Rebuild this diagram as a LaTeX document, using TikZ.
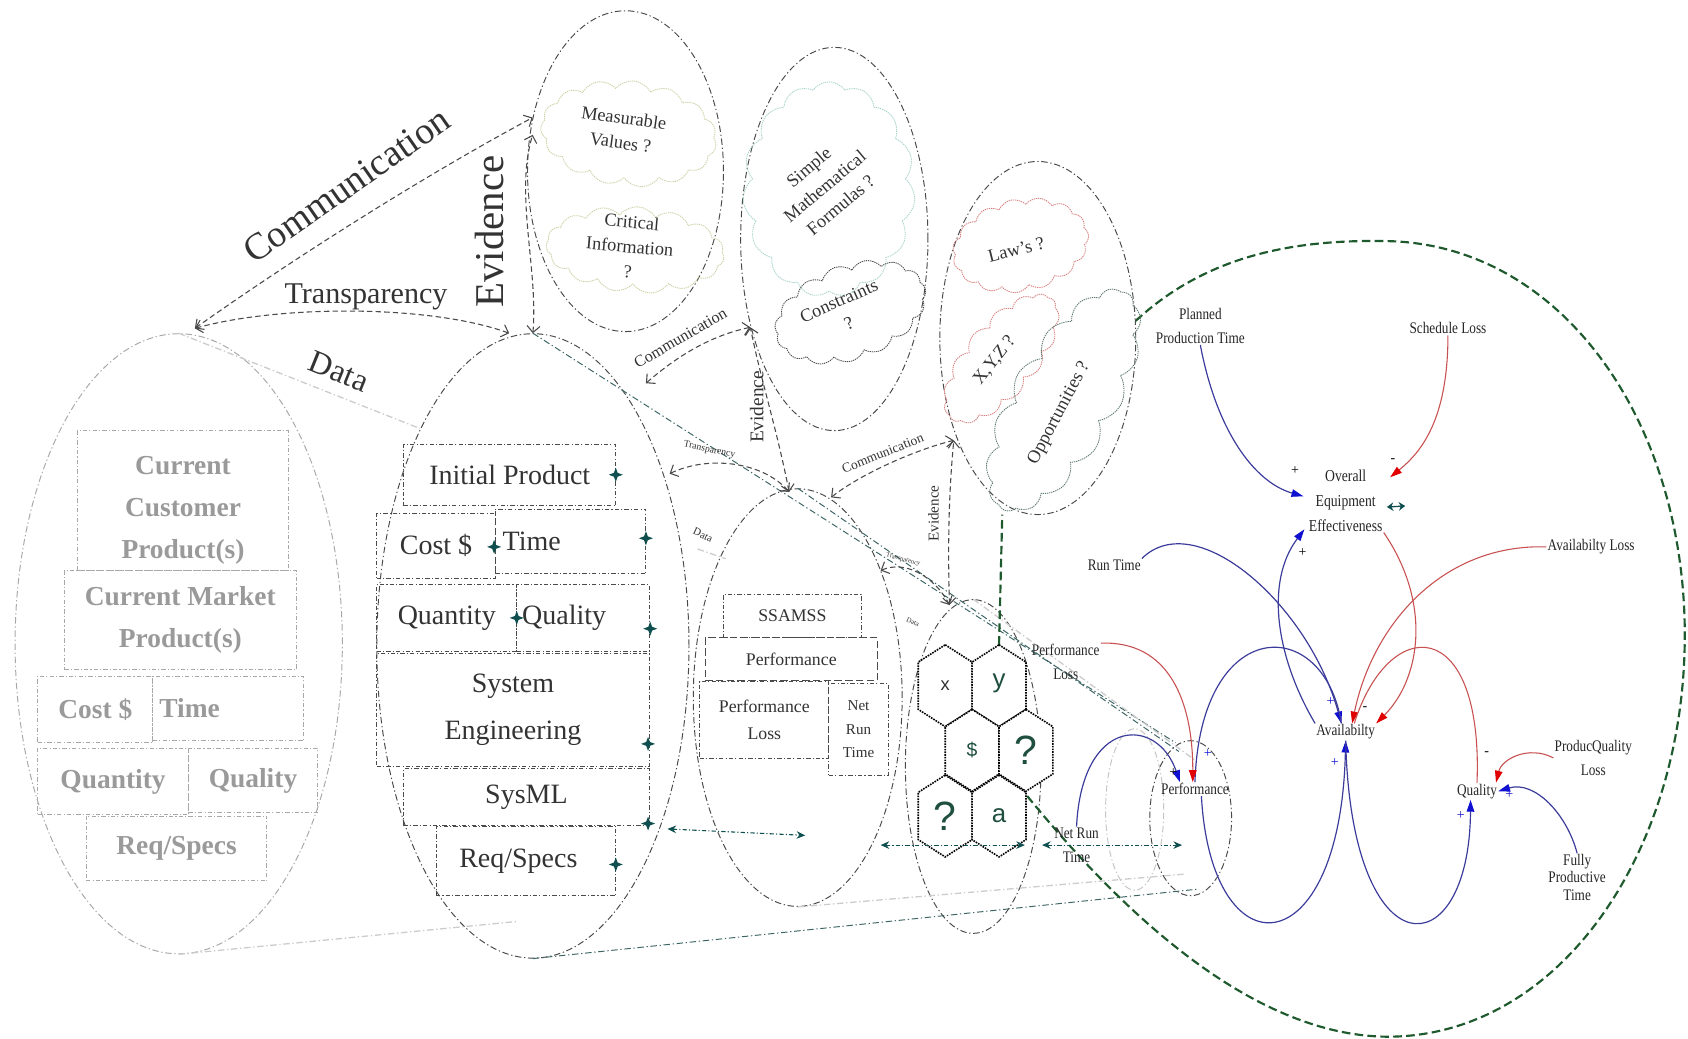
\documentclass[tikz,border=0pt]{standalone}
\usepackage{fontspec}
\setmainfont{Liberation Serif}
\newfontfamily\cldf[FakeStretch=0.82]{Liberation Serif}
\newfontfamily\hexf{Liberation Sans}
\usetikzlibrary{shapes.geometric,shapes.symbols,arrows.meta}
\definecolor{tealx}{HTML}{0F4F4F}
\definecolor{projc}{HTML}{3D6565}
\definecolor{lgray}{HTML}{A8A8A8}
\definecolor{dgray}{HTML}{4A4A4A}
\definecolor{txtgray}{HTML}{333333}
\definecolor{boldgray}{HTML}{9A9A9A}
\definecolor{cldblue}{HTML}{3B3B9B}
\definecolor{cldred}{HTML}{C85050}
\definecolor{headblue}{HTML}{1010D0}
\definecolor{headred}{HTML}{E00000}
\definecolor{greenx}{HTML}{1E5A2E}
\definecolor{cloudY}{HTML}{C9D3A6}
\definecolor{cloudT}{HTML}{A9D4CC}
\definecolor{cloudR}{HTML}{D98080}
\definecolor{cloudG}{HTML}{5F7A70}
\definecolor{hexg}{HTML}{1F4F3F}
\begin{document}
\begin{tikzpicture}[x=1pt,y=-1pt]
\tikzset{
 ellbase/.style={ellipse, inner sep=0pt, line width=0.9pt, dash pattern=on 6pt off 2.5pt on 1.2pt off 2.5pt},
 ellD/.style={ellbase, draw=dgray},
 ellL/.style={ellbase, draw=lgray},
 ellLL/.style={ellbase, draw=gray!45},
 boxbase/.style={line width=0.9pt, dash pattern=on 4pt off 2pt on 1pt off 2pt, inner sep=6pt, align=center},
 gbox/.style={boxbase, draw=lgray, font=\fontsize{25.5}{39}\selectfont\bfseries, text=boldgray},
 dbox/.style={boxbase, draw=dgray, font=\fontsize{26}{44}\selectfont, text=txtgray},
 sbox/.style={boxbase, draw=dgray, font=\fontsize{16.5}{25}\selectfont, text=txtgray},
 dia/.style={star, star points=4, star point ratio=2.6, fill=tealx, inner sep=0pt, minimum size=13pt},
 darr/.style={draw=dgray, line width=1pt, dash pattern=on 5pt off 3pt, {Straight Barb[length=6pt,width=12pt]}-{Straight Barb[length=6pt,width=12pt]}},
 lbl/.style={text=txtgray, inner sep=0pt},
 proj/.style={draw=projc, line width=0.9pt, dash pattern=on 6pt off 2.5pt on 1.2pt off 2.5pt},
 projf/.style={draw=gray!40, line width=1.2pt, dash pattern=on 6pt off 2.5pt on 1.2pt off 2.5pt},
 tarr/.style={draw=tealx, line width=1pt, dash pattern=on 4pt off 2pt on 1pt off 2pt, {Stealth[length=8pt,width=7pt]}-{Stealth[length=8pt,width=7pt]}},
 greenp/.style={draw=greenx, line width=2pt, dash pattern=on 8pt off 4pt},
 cloudst/.style={cloud, cloud puffs=15, cloud puff arc=110, cloud ignores aspect, line width=0.8pt, dash pattern=on 1.2pt off 0.8pt, inner sep=0pt},
 ctxt/.style={text=txtgray, align=center, font=\fontsize{17}{23}\selectfont, inner sep=0pt},
 hexs/.style={draw=black, fill=white, line width=1.5pt, densely dotted},
 hexl/.style={font=\hexf, text=hexg, inner sep=0pt},
 cldlbl/.style={font=\cldf\fontsize{15}{22}\selectfont, align=center, inner sep=1pt, text=black!85},
 cb/.style={draw=cldblue, line width=1.1pt, -{Triangle[length=11pt,width=7pt,color=headblue]}},
 cbn/.style={draw=cldblue, line width=1.1pt},
 cr/.style={draw=cldred, line width=1pt, -{Triangle[length=11pt,width=7pt,color=headred]}},
 crn/.style={draw=cldred, line width=1pt},
 sgn/.style={font=\fontsize{13}{13}\selectfont, inner sep=0pt},
}
\useasboundingbox (0,0) rectangle (1568,965);
\fill[white] (0,0) rectangle (1568,965);

% ---------- ellipses ----------
\node[ellL, minimum width=304pt, minimum height=576pt] (e1) at (166,598) {};
\node[ellD, minimum width=290pt, minimum height=580pt] (e2) at (495,600) {};
\node[ellD, minimum width=194pt, minimum height=388pt] (e3) at (741,648) {};
\node[ellD, minimum width=126pt, minimum height=310pt] (e4) at (904,712) {};
\node[ellD, minimum width=182pt, minimum height=298pt] (eA) at (581,159) {};
\node[ellD, minimum width=174pt, minimum height=356pt] (eB) at (775,222) {};
\node[ellD, minimum width=182pt, minimum height=328pt] (eC) at (964,314) {};
\node[ellLL, minimum width=54pt, minimum height=150pt] (e5) at (1054,752) {};
\node[ellD, minimum width=76pt, minimum height=144pt] (e6) at (1106,760) {};

% ---------- projection lines ----------
\coordinate (pj1) at (1092,690);
\coordinate (pj2) at (1095,698);
\coordinate (pj3) at (1110,706);
\coordinate (pj4) at (1112,826);
\coordinate (pj5) at (480,856);
\coordinate (pj6) at (1100,812);
\coordinate (dA) at (390,398);
\draw[proj] (e2.north) -- (pj1);
\draw[proj] (e3.north) -- (pj2);
\draw[projf] (e4.north) -- (pj3);
\draw[proj] (e2.south) -- (pj4);
\draw[projf] (e1.south) -- (pj5);
\draw[projf] (e3.south) -- (pj6);
\draw[projf] (e1.north) -- (dA);

% ---------- green boundary ----------
\draw[greenp] (928,599) -- (931,478);
\draw[greenp] (1055,298) .. controls (1120,238) and (1200,222) .. (1290,224)
  .. controls (1450,228) and (1565,390) .. (1565,590)
  .. controls (1565,790) and (1450,962) .. (1290,963)
  .. controls (1150,963) and (1020,820) .. (953,738);

% ---------- left ellipse boxes ----------
\node[gbox, minimum width=196pt, minimum height=130pt] (ccp) at (170,465) {\raisebox{-7pt}[\height][\depth]{\begin{tabular}{@{}c@{}}Current\\Customer\\Product(s)\end{tabular}}};
\node[gbox, minimum width=215pt, minimum height=92pt] (cmp) at (167.5,576) {Current Market\\Product(s)};
\node[gbox, minimum width=107pt, minimum height=62pt] (cost1) at (88.5,659) {Cost \$};
\node[gbox, text width=128pt, align=left, minimum height=60pt] (time1) at (212,658) {Time};
\node[gbox, minimum width=140pt, minimum height=62pt] (quan1) at (105,726) {Quantity};
\node[gbox, minimum width=120pt, minimum height=60pt] (qual1) at (235,725) {Quality};
\node[gbox, minimum width=168pt, minimum height=60pt] (req1) at (164,788) {Req/Specs};

% ---------- second ellipse boxes ----------
\node[dbox, minimum width=197pt, minimum height=57pt] (init) at (473.5,441.5) {Initial Product};
\node[dbox, minimum width=110pt, minimum height=60pt] (cost2) at (405,507) {Cost \$};
\node[dbox, text width=126pt, align=left, inner sep=7pt, minimum height=60pt] (time2) at (530,503) {Time};
\node[dbox, minimum width=130pt, minimum height=62pt] (quan2) at (415,574) {Quantity};
\node[dbox, text width=113pt, align=left, inner sep=5pt, minimum height=62pt] (qual2) at (541.5,574) {Quality};
\node[dbox, minimum width=253pt, minimum height=105pt] (se) at (476.5,659.5) {System\\Engineering};
\node[dbox, minimum width=228pt, minimum height=53pt] (sysml) at (489,740.5) {SysML};
\node[dbox, minimum width=167pt, minimum height=64pt] (req2) at (488.5,800) {Req/Specs\hspace*{14pt}};
\node[dia] (d1) at (572,441) {};
\node[dia] (d2) at (459,508) {};
\node[dia] (d3) at (600,500) {};
\node[dia] (d4) at (480,574) {};
\node[dia] (d5) at (604,584) {};
\node[dia] (d6) at (602,691) {};
\node[dia] (d7) at (602,765) {};
\node[dia] (d8) at (572,803) {};

% ---------- third ellipse boxes ----------
\node[sbox, minimum width=128pt, minimum height=40pt] (ss) at (736,572) {SSAMSS};
\node[sbox, dash pattern=on 7pt off 3pt, minimum width=160pt, minimum height=40pt] (perf3) at (735,612) {Performance};
\node[sbox, minimum width=120pt, minimum height=72pt] (pl3) at (710,669) {Performance\\Loss};
\node[sbox, font=\fontsize{14}{22}\selectfont, minimum width=55pt, minimum height=85pt] (nrt3) at (797.5,677.5) {Net\\Run\\Time};

% ---------- hexagons ----------
\foreach \cx/\cy in {878/637, 928/637, 903/697, 953/697, 878/758, 928/758}
  \filldraw[hexs] (\cx,\cy) ++(0,-38) -- ++(25,16) -- ++(0,44) -- ++(-25,16) -- ++(-25,-16) -- ++(0,-44) -- cycle;
\node[hexl, text=txtgray, font=\hexf\fontsize{17}{17}\selectfont] (hx1) at (878,637) {x};
\node[hexl, font=\hexf\fontsize{24}{24}\selectfont] (hx2) at (928,635) {y};
\node[hexl, font=\hexf\fontsize{18}{18}\selectfont] (hx3) at (903,697) {\$};
\node[hexl, font=\hexf\fontsize{38}{38}\selectfont] (hx4) at (953,697) {?};
\node[hexl, font=\hexf\fontsize{38}{38}\selectfont] (hx5) at (878,758) {?};
\node[hexl, font=\hexf\fontsize{24}{24}\selectfont] (hx6) at (928,758) {a};

% ---------- clouds ----------
\node[cloudst, draw=cloudY, minimum width=164pt, minimum height=98pt, rotate=-6] (cMeas) at (584,124) {};
\node[cloudst, draw=cloudY, minimum width=166pt, minimum height=80pt, rotate=-4] (cCrit) at (590,232) {};
\node[cloudst, draw=cloudT, minimum width=160pt, minimum height=200pt] (cSimp) at (770,176) {};
\node[cloudst, draw=dgray, minimum width=146pt, minimum height=88pt, rotate=20] (cCons) at (790,290) {};
\node[cloudst, draw=cloudR, minimum width=128pt, minimum height=86pt, rotate=12] (cLaw) at (948,228) {};
\node[cloudst, draw=cloudR, minimum width=146pt, minimum height=68pt, rotate=50] (cXYZ) at (930,333) {};
\node[cloudst, draw=cloudG, minimum width=232pt, minimum height=98pt, rotate=60] (cOpp) at (988,372) {};
\node[ctxt, rotate=-8] (tMeas) at (578,121) {Measurable\\Values ?};
\node[ctxt, rotate=-5] (tCrit) at (585,229) {Critical\\Information\\?};
\node[ctxt, rotate=40] (tSimp) at (766,173) {Simple\\Mathematical\\Formulas ?};
\node[ctxt, rotate=24] (tCons) at (784,290) {Constraints\\?};
\node[ctxt, rotate=14] (tLaw) at (944,232) {Law's ?};
\node[ctxt, rotate=52] (tXYZ) at (924,335) {X,Y,Z ?};
\node[ctxt, rotate=62] (tOpp) at (984,384) {Opportunities ?};

% ---------- motif 1 arrows ----------
\coordinate (m1o) at (181,305);
\draw[darr] (m1o) .. controls (280,235) and (400,160) .. (eA.150);
\draw[darr] (m1o) .. controls (260,283) and (400,283) .. ([xshift=-22pt]e2.north);
\draw[darr] (e2.north) .. controls (500,250) and (478,180) .. ([yshift=-16pt]eA.150);
\node[lbl, font=\fontsize{35}{35}\selectfont, rotate=35] (commL) at (322,172) {Communication};
\node[lbl, font=\fontsize{28}{28}\selectfont] (transL) at (340,276) {Transparency};
\node[lbl, font=\fontsize{38}{38}\selectfont, rotate=90] (evidL) at (455,215) {Evidence};
\node[lbl, font=\fontsize{30}{30}\selectfont, rotate=-22] (dataL) at (315,345) {Data};

% ---------- motif 2 arrows ----------
\coordinate (m2o) at (600,356);
\coordinate (m2c) at (697,304);
\coordinate (m2e) at (733,457);
\coordinate (m2t) at (622,440);
\coordinate (m2d1) at (648,510);
\coordinate (m2d2) at (674,519);
\draw[darr] (m2o) .. controls (630,330) and (660,312) .. (m2c);
\draw[darr] (m2e) .. controls (722,400) and (706,350) .. (m2c);
\draw[darr] (m2t) .. controls (660,422) and (710,430) .. (m2e);
\draw[projf] (m2d1) -- (m2d2);
\node[lbl, font=\fontsize{15}{15}\selectfont, rotate=30] (comm2) at (632,314) {Communication};
\node[lbl, font=\fontsize{18}{18}\selectfont, rotate=90] (evid2) at (703,378) {Evidence};
\node[lbl, font=\fontsize{9}{9}\selectfont, rotate=-12] (trans2) at (659,418) {Transparency};
\node[lbl, font=\fontsize{10}{10}\selectfont, rotate=-25] (data2) at (653,497) {Data};

% ---------- motif 3 arrows ----------
\coordinate (m3o) at (772,462);
\coordinate (m3c) at (886,409);
\coordinate (m3e) at (882,562);
\coordinate (m3t) at (818,530);
\draw[darr] (m3o) .. controls (800,440) and (850,418) .. (m3c);
\draw[darr] (m3e) .. controls (880,500) and (882,450) .. (m3c);
\draw[darr] (m3t) .. controls (840,520) and (868,535) .. (m3e);
\node[lbl, font=\fontsize{12.5}{12.5}\selectfont, rotate=22] (comm3) at (820,421) {Communication};
\node[lbl, font=\fontsize{14}{14}\selectfont, rotate=90] (evid3) at (867,477) {Evidence};
\node[lbl, font=\fontsize{6}{6}\selectfont, rotate=-15] (trans3) at (839,520) {Transparency};
\node[lbl, font=\fontsize{6.5}{6.5}\selectfont, rotate=-25] (data3) at (848,578) {Data};

% ---------- teal double arrows ----------
\coordinate (t1a) at (620,770);
\coordinate (t1b) at (748,776);
\coordinate (t2a) at (818,785);
\coordinate (t2b) at (952,785);
\coordinate (t3a) at (968,785);
\coordinate (t3b) at (1098,785);
\draw[tarr] (t1a) -- (t1b);
\draw[tarr] (t2a) -- (t2b);
\draw[tarr] (t3a) -- (t3b);

% ---------- causal loop diagram ----------
\node[cldlbl] (ppt) at (1115,303) {Planned\\Production Time};
\node[cldlbl] (sl) at (1345,305) {Schedule Loss};
\node[cldlbl, font=\cldf\fontsize{15.5}{23}\selectfont] (oee) at (1250,465) {Overall\\Equipment\\Effectiveness};
\node[cldlbl] (rt) at (1035,525) {Run Time};
\node[cldlbl] (al) at (1478,508) {Availabilty Loss};
\node[cldlbl] (pl) at (990,615) {Performance\\Loss};
\node[cldlbl] (av) at (1250,680) {Availabilty};
\node[cldlbl] (pql) at (1480,704) {ProducQuality\\Loss};
\node[cldlbl] (perf) at (1110,733) {Performance};
\node[cldlbl] (q) at (1372,735) {Quality};
\node[cldlbl] (nrt) at (1000,785) {Net Run\\Time};
\node[cldlbl, font=\cldf\fontsize{15}{16}\selectfont] (fpt) at (1465,815) {Fully\\Productive\\Time};

\draw[cb] (ppt.south) .. controls (1130,400) and (1165,448) .. ([xshift=-4pt,yshift=4pt]oee.west);
\draw[cr] (sl.south) .. controls (1345,390) and (1320,420) .. ([xshift=6pt,yshift=-8pt]oee.north east);
\draw[cb] (av.north west) .. controls (1185,610) and (1175,540) .. ([xshift=-3pt,yshift=3pt]oee.south west);
\draw[cb] (rt.north east) .. controls (1110,470) and (1215,560) .. ([xshift=-4pt]av.north);
\draw[cr] (oee.south east) .. controls (1330,560) and (1320,630) .. (av.north east);
\draw[cr] (al.west) .. controls (1340,505) and (1275,580) .. ([xshift=6pt]av.north);
\draw[crn] (q.north) .. controls (1378,570) and (1290,570) .. ([xshift=8pt]av.north);
\draw[cbn] (perf.north) .. controls (1115,570) and (1230,570) .. ([xshift=-4pt]av.north);
\draw[cb] ([xshift=6pt]perf.south) .. controls (1125,905) and (1245,900) .. (av.south);
\draw[cb] (av.south) .. controls (1255,905) and (1365,900) .. ([xshift=-6pt]q.south);
\draw[cr] (pl.north east) .. controls (1085,595) and (1108,650) .. ([xshift=-2pt]perf.north);
\draw[cb] (nrt.north) .. controls (1005,665) and (1075,665) .. ([xshift=-14pt]perf.north);
\draw[cr] (pql.west) .. controls (1420,692) and (1395,705) .. ([xshift=-2pt]q.north east);
\draw[cb] (fpt.north) .. controls (1455,755) and (1425,725) .. (q.east);
\draw[tealx, line width=1.2pt, {Stealth[length=6pt,width=8pt]}-{Stealth[length=6pt,width=8pt]}] ([xshift=3pt,yshift=-6pt]oee.east) -- ([xshift=20pt,yshift=-5pt]oee.east);

\node[sgn] (s1) at (1203,437) {+};
\node[sgn] (s2) at (1294,428) {-};
\node[sgn] (s3) at (1210,513) {+};
\node[sgn, text=headblue] (s4) at (1236,652) {+};
\node[sgn] (s5) at (1268,658) {-};
\node[sgn, text=headblue] (s6) at (1240,708) {+};
\node[sgn, text=headblue] (s7) at (1357,758) {+};
\node[sgn] (s8) at (1090,718) {+};
\node[sgn, text=headblue] (s9) at (1122,700) {+};
\node[sgn] (s10) at (1381,700) {-};
\node[sgn, text=headblue] (s11) at (1402,738) {+};
\end{tikzpicture}
\end{document}
